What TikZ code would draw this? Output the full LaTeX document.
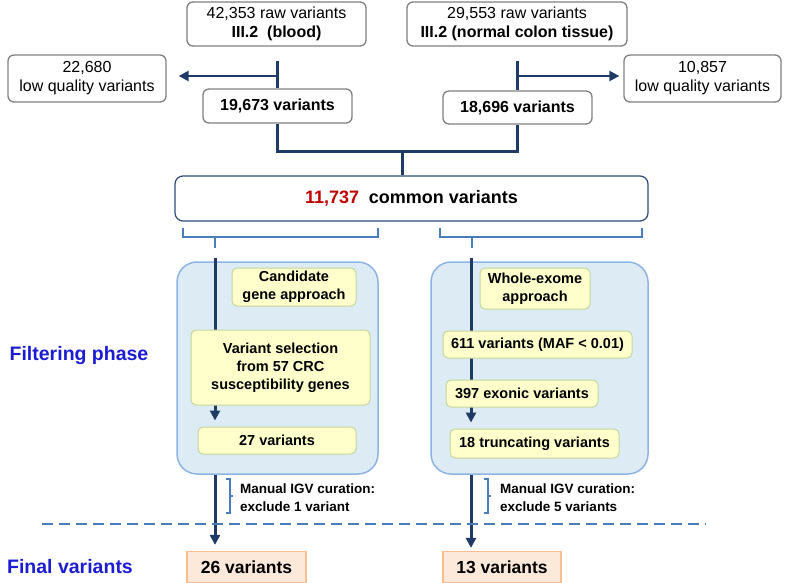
\documentclass[tikz,border=0pt]{standalone}
\usepackage{fontspec}
\setmainfont{Liberation Sans}
\usetikzlibrary{arrows.meta,positioning}

\definecolor{linkblue}{HTML}{1F3A64}
\definecolor{boxgray}{HTML}{808080}
\definecolor{commonline}{HTML}{2E4A78}
\definecolor{panelfill}{HTML}{DDEBF5}
\definecolor{panelline}{HTML}{8EB4E3}
\definecolor{stepfill}{HTML}{FFFFCC}
\definecolor{stepline}{HTML}{C3D69B}
\definecolor{finalfill}{HTML}{FDE9D9}
\definecolor{finalline}{HTML}{F9BE8C}
\definecolor{labelblue}{HTML}{1C1CD2}
\definecolor{bracecol}{HTML}{4A7EBB}
\definecolor{countred}{HTML}{C00000}

\pgfdeclarelayer{back}
\pgfsetlayers{back,main}

\begin{document}
\begin{tikzpicture}[x=1pt, y=-1pt,
  raw node/.style={draw=boxgray, line width=1.3pt, rounded corners=6pt, fill=white, align=center, inner sep=0pt, font=\fontsize{16}{19}\selectfont},
  count node/.style={raw node, font=\fontsize{16}{19}\selectfont\bfseries},
  common node/.style={draw=commonline, line width=1.2pt, rounded corners=8pt, fill=white, inner sep=0pt, font=\fontsize{18}{21}\selectfont\bfseries},
  step node/.style={draw=stepline, fill=stepfill, line width=1pt, rounded corners=5pt, align=center, inner sep=0pt, font=\fontsize{14.5}{18}\selectfont\bfseries},
  panel/.style={draw=panelline, fill=panelfill, line width=1.5pt, rounded corners=20pt, inner sep=0pt},
  final node/.style={draw=finalline, fill=finalfill, line width=1.2pt, inner sep=0pt, font=\fontsize{17.5}{20}\selectfont\bfseries},
  phase/.style={text=labelblue, inner sep=0pt, font=\fontsize{19.5}{22}\selectfont\bfseries},
  note/.style={align=left, anchor=west, inner sep=0pt, font=\fontsize{13.5}{18}\selectfont\bfseries},
  flow/.style={draw=linkblue, line width=3pt},
  tip/.style={-{Triangle[length=10pt,width=10pt]}},
  clamp/.style={draw=bracecol, line width=2.6pt}]

  \useasboundingbox (0,0) rectangle (787,583);

  % sequencing
  \node[raw node, minimum width=179pt, minimum height=44pt] (raw1) at (276.5,24) {42,353 raw variants\\\textbf{III.2\ \ (blood)}};
  \node[raw node, minimum width=220pt, minimum height=44pt] (raw2) at (517,24) {29,553 raw variants\\\textbf{III.2 (normal colon tissue)}};
  \node[raw node, minimum width=158pt, minimum height=47pt] (low1) at (87,78.5) {22,680\\low quality variants};
  \node[raw node, minimum width=157pt, minimum height=47pt] (low2) at (702.5,78.5) {10,857\\low quality variants};
  \node[count node, minimum width=149pt, minimum height=34pt] (var1) at (277.5,106) {19,673 variants};
  \node[count node, minimum width=149pt, minimum height=33pt] (var2) at (517.5,107.5) {18,696 variants};
  \node[common node, minimum width=473pt, minimum height=45pt] (common) at (411.5,198.5) {\textcolor{countred}{11,737}\hspace{0.55em}common variants};

  \coordinate (qc1) at (277,61);
  \coordinate (qc2) at (517,61);
  \coordinate (join) at (402,152);
  \draw[flow] (qc1) -- (qc1 |- var1.north);
  \draw[flow] (qc2) -- (qc2 |- var2.north);
  \draw[flow, line width=2.4pt, tip, shorten >=12pt] (277,76) -- (low1.east |- 0,76);
  \draw[flow, line width=2.4pt, tip, shorten >=4pt] (517,76) -- (low2.west |- 0,76);
  \draw[flow] (var1.south -| qc1) |- (join) -| (var2.south -| qc2);
  \draw[flow] (join) -- (common.north -| join);

  % two filters
  \draw[clamp] (183,228) -- (183,237) -- (378,237) -- (378,228);
  \draw[clamp] (215,237) -- (215,248);
  \draw[clamp] (440,228) -- (440,237) -- (642,237) -- (642,228);
  \draw[clamp] (472,237) -- (472,248);

  \node[step node, minimum width=124pt, minimum height=38pt] (cand) at (294,287) {Candidate\\gene approach};
  \node[step node, minimum width=179pt, minimum height=75pt] (sel) at (280.5,367.5) {Variant selection\\from 57 CRC\\susceptibility genes};
  \node[step node, minimum width=158pt, minimum height=27pt] (v27) at (277,440.5) {27 variants};
  \node[step node, minimum width=110pt, minimum height=41pt] (wes) at (535,288.5) {Whole-exome\\approach};
  \node[step node, minimum width=189pt, minimum height=27pt] (maf) at (537.5,344.5) {611 variants (MAF < 0.01)};
  \node[step node, minimum width=152pt, minimum height=27pt] (exon) at (522,393.5) {397 exonic variants};
  \node[step node, minimum width=169pt, minimum height=29pt] (trunc) at (534.5,443.5) {18 truncating variants};

  \coordinate (inL) at (215,258);
  \coordinate (inR) at (471,258);
  \begin{pgfonlayer}{back}
    \node[panel, minimum width=201pt, minimum height=212pt] (panL) at (277.5,368) {};
    \node[panel, minimum width=217pt, minimum height=212pt] (panR) at (539.5,368) {};
    \draw[flow, tip, shorten >=6pt] (inL) -- (inL |- v27.north);
    \draw[flow, tip, shorten >=6pt] (inR) -- (inR |- trunc.north);
  \end{pgfonlayer}

  \node[phase] (filter) at (79,355) {Filtering phase};

  % curation
  \node[final node, minimum width=119pt, minimum height=31pt] (fin1) at (246.5,567) {26 variants};
  \node[final node, minimum width=118pt, minimum height=31pt] (fin2) at (502,567) {13 variants};
  \node[phase] (final) at (70,567) {Final variants};

  \draw[flow, tip, shorten >=6pt] (inL |- panL.south) -- (inL |- fin1.north);
  \draw[flow, tip, shorten >=3pt] (inR |- panR.south) -- (inR |- fin2.north);

  \draw[clamp, line width=1.8pt] (226,479) -- (230,479) -- (230,513) -- (226,513);
  \draw[clamp, line width=1.8pt] (230,496) -- (233,496);
  \draw[clamp, line width=1.8pt] (484,479) -- (488,479) -- (488,513) -- (484,513);
  \draw[clamp, line width=1.8pt] (488,496) -- (491,496);
  \node[note] (igv1) at (240,498) {Manual IGV curation:\\exclude 1 variant};
  \node[note] (igv2) at (500,498) {Manual IGV curation:\\exclude 5 variants};

  \draw[draw=bracecol, line width=2.5pt, dash pattern=on 11pt off 6pt] (42,524) -- (706,524);
\end{tikzpicture}
\end{document}
